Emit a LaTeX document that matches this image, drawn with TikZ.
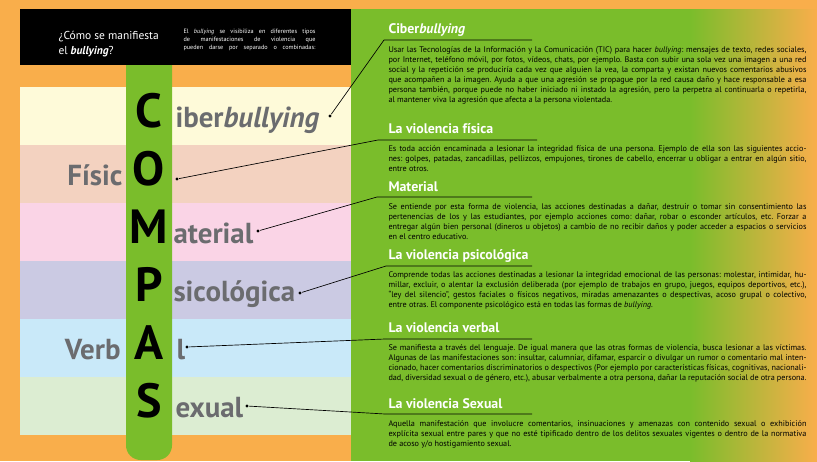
\documentclass[tikz,border=0pt]{standalone}
\usepackage{fontspec}
\setmainfont{PT Sans}
\usetikzlibrary{positioning}
\frenchspacing

\definecolor{fondo}{HTML}{F9AE4B}
\definecolor{verde}{HTML}{7ABD2B}
\definecolor{gris}{HTML}{6B6C6F}
\definecolor{crema}{HTML}{FEFAD9}
\definecolor{durazno}{HTML}{F3D2C0}
\definecolor{rosa}{HTML}{FAD4E6}
\definecolor{lila}{HTML}{CBCAE3}
\definecolor{celeste}{HTML}{C9E9F9}
\definecolor{menta}{HTML}{DCEDD2}

\newlength{\anchotexto}\setlength{\anchotexto}{313.5pt}
\newlength{\anchonota}\setlength{\anchonota}{99pt}
\newcommand{\lj}[1]{\makebox[\anchotexto][s]{#1}}
\newcommand{\lnota}[1]{\makebox[\anchonota][s]{#1}}

\tikzset{every picture/.style={line width=0.75pt}}
\tikzset{
  letra/.style={font=\fontsize{36}{36}\selectfont\bfseries, inner sep=0pt, anchor=base},
  palabra/.style={font=\fontsize{21.7}{22}\selectfont\bfseries, text=gris, inner sep=0pt},
  titulo/.style={font=\fontsize{10.4}{11}\selectfont\bfseries, text=white, inner sep=0pt, anchor=base west},
  cuerpo/.style={font=\fontsize{6.15}{7.5}\selectfont, align=left, inner sep=0pt, anchor=base west},
  punto/.style={circle, fill=black, inner sep=0pt, minimum size=2.6pt},
  linea/.style={line width=0.5pt},
}

\begin{document}
\begin{tikzpicture}[x=0.75pt,y=0.75pt,yscale=-1]

\useasboundingbox (0,0) rectangle (817,461);
\fill [fondo] (0,0) rectangle (817,461);

% franjas
\fill [crema]    (20,87) rectangle (351,145);
\fill [durazno]  (20,145) rectangle (351,203);
\fill [rosa]     (20,203) rectangle (351,261);
\fill [lila]     (20,261) rectangle (351,319);
\fill [celeste]  (20,319) rectangle (351,377);
\fill [menta]    (20,377) rectangle (351,435);

% panel derecho
\fill [verde] (351,9) rectangle (691,461);
\shade [left color=verde, right color=fondo] (690,9) rectangle (817,461);

% barra y recuadro negro
\fill [verde, rounded corners=11] (126,40) rectangle (172,460);
\fill [black] (20,9) rectangle (351,65);

\draw (58,31) node [anchor=north west, inner sep=0pt, align=left, text=white, font=\fontsize{8.6}{11.25}\selectfont] (pregunta) {¿Cómo se manifiesta\\el \textbf{\textit{bullying}}?};
\draw (183,49) node [anchor=base west, inner sep=0pt, align=left, text=white, font=\fontsize{4.65}{5.8}\selectfont] (nota) {\lnota{El \textit{bullying} se visibiliza en diferentes tipos}\\\lnota{de manifestaciones de violencia que}\\\lnota{pueden darse por separado o combinadas:}};

% letras
\draw (149,127) node [letra] (letC) {C};
\draw (149,185) node [letra] (letO) {O};
\draw (149,243) node [letra] (letM) {M};
\draw (149,301) node [letra] (letP) {P};
\draw (149,359) node [letra] (letA) {A};
\draw (149,417) node [letra] (letS) {S};

\draw (175,127) node [palabra, anchor=base west] (palC) {iber\textit{bullying}};
\draw (123,185) node [palabra, anchor=base east] (palO) {Físic};
\draw (173,243) node [palabra, anchor=base west] (palM) {aterial};
\draw (173,301) node [palabra, anchor=base west] (palP) {sicológica};
\draw (121,359) node [palabra, anchor=base east] (palV) {Verb};
\draw (176,359) node [palabra, anchor=base west] (palA) {l};
\draw (175,417) node [palabra, anchor=base west] (palS) {exual};

\node [punto] (dC) at (330,116) {};
\node [punto] (dO) at (177,179) {};
\node [punto] (dM) at (258,231) {};
\node [punto] (dP) at (300,293) {};
\node [punto] (dA) at (187,347) {};
\node [punto] (dS) at (247,406) {};

% titulos
\draw (388,33) node [titulo] (titC) {Ciber\textit{bullying}};
\draw (388,133) node [titulo] (titO) {La violencia física};
\draw (388,191) node [titulo] (titM) {Material};
\draw (388,259) node [titulo] (titP) {La violencia psicológica};
\draw (388,332) node [titulo] (titA) {La violencia verbal};
\draw (388,408) node [titulo] (titS) {La violencia Sexual};

\coordinate (kC) at (384,40);  \coordinate (uC) at (532,40);
\coordinate (kO) at (378,140); \coordinate (uO) at (537,140);
\coordinate (kM) at (377,197); \coordinate (uM) at (532,197);
\coordinate (kP) at (386,266); \coordinate (uP) at (532,266);
\coordinate (kA) at (385,339); \coordinate (uA) at (532,339);
\coordinate (kS) at (385,414); \coordinate (uS) at (532,414);

\draw [linea] (dC) -- (kC) -- (uC);
\draw [linea] (dO) -- (kO) -- (uO);
\draw [linea] (dM) -- (kM) -- (uM);
\draw [linea] (dP) -- (kP) -- (uP);
\draw [linea] (dA) -- (kA) -- (uA);
\draw [linea] (dS) -- (kS) -- (uS);

% textos (base = ultima linea)
\draw (388,102.5) node [cuerpo] (txtC) {\lj{Usar las Tecnologías de la Información y la Comunicación (TIC) para hacer \textit{bullying}: mensajes de texto, redes sociales,}\\\lj{por Internet, teléfono móvil,  por fotos, vídeos, chats, por ejemplo. Basta con subir una sola vez una imagen a una red}\\\lj{social y la repetición se produciría cada vez que alguien la vea, la comparta y existan nuevos comentarios abusivos}\\\lj{que acompañen a la imagen. Ayuda a que una agresión se propague por la red causa daño y hace responsable a esa}\\\lj{persona también, porque puede no haber iniciado ni instado la agresión, pero la perpetra al continuarla o repetirla,}\\al mantener viva la agresión que afecta a la persona violentada.};
\draw (388,171.5) node [cuerpo] (txtO) {\lj{Es toda acción encaminada a lesionar la integridad física de una persona. Ejemplo de ella son las siguientes accio-}\\\lj{nes: golpes, patadas, zancadillas, pellizcos, empujones, tirones de cabello, encerrar u obligar a entrar en algún sitio,}\\entre otros.};
\draw (388,239.5) node [cuerpo] (txtM) {\lj{Se entiende por esta forma de violencia, las acciones destinadas a dañar, destruir o tomar sin consentimiento las}\\\lj{pertenencias de los y las estudiantes, por ejemplo acciones como: dañar, robar o esconder artículos, etc. Forzar a}\\\lj{entregar algún bien personal (dineros u objetos) a cambio de no recibir daños y poder acceder a espacios o servicios}\\en el centro educativo.};
\draw (388,307.5) node [cuerpo] (txtP) {\lj{Comprende todas las acciones destinadas a lesionar la integridad emocional de las personas:  molestar, intimidar, hu-}\\\lj{millar, excluir, o alentar la exclusión deliberada (por ejemplo de trabajos en grupo, juegos, equipos deportivos, etc.),}\\\lj{“ley del silencio”, gestos faciales o físicos negativos, miradas amenazantes o despectivas, acoso grupal o colectivo,}\\entre otras.  El componente psicológico está en todas las formas de \textit{bullying}.};
\draw (388,380.5) node [cuerpo] (txtA) {\lj{Se manifiesta a través del lenguaje.  De igual manera que las otras formas de violencia, busca lesionar a las víctimas.}\\\lj{Algunas de las manifestaciones son: insultar, calumniar, difamar, esparcir o divulgar un rumor o comentario mal inten-}\\\lj{cionado, hacer comentarios discriminatorios o despectivos (Por ejemplo por características físicas, cognitivas, nacionali-}\\\lj{dad, diversidad sexual o de género, etc.), abusar verbalmente a otra persona, dañar la reputación social de otra persona.}};
\draw (388,446.5) node [cuerpo] (txtS) {\lj{Aquella manifestación que involucre comentarios, insinuaciones y amenazas con contenido sexual o exhibición}\\\lj{explícita sexual entre pares y que no esté tipificado dentro de los delitos sexuales vigentes o dentro de la normativa}\\de acoso y/o hostigamiento sexual.};

\end{tikzpicture}
\end{document}
